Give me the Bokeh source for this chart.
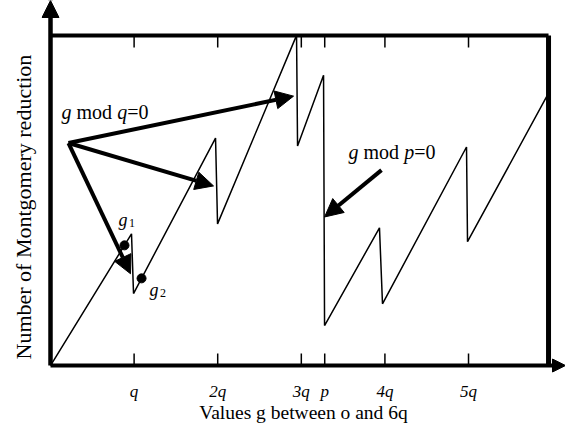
from bokeh.plotting import figure
from bokeh.models import Range1d, FixedTicker, Arrow, NormalHead, Title
from bokeh.core.properties import value
from bokeh.embed import file_html
from bokeh.resources import INLINE

# ---- data (x in units of q, y = relative number of Montgomery reductions, 100 = top of box)
g_vals = [0, 0.969, 0.993, 1.974, 1.998, 2.943, 2.955, 3.266, 3.278, 3.935, 3.971, 4.976, 4.988, 5.957]
reductions = [0, 39.9, 21.8, 68.9, 42.9, 100, 66.5, 87.9, 12.1, 41.7, 18.7, 66.2, 37.5, 82.5]

tick_values = [1, 2, 3, 3.28, 4, 5]
tick_labels = ["q", "2q", "3q", "p", "4q", "5q"]

marked_g = [0.885, 1.089]
marked_r = [36.4, 26.4]
marked_sub = ["1", "2"]
marked_label_g = [0.813, 1.184]
marked_label_r = [44.0, 22.8]

arrow_q_start = (0.215, 67.4)
arrow_q_ends_g = [2.907, 1.950, 0.957]
arrow_q_ends_r = [81.6, 54.4, 27.8]
arrow_p_start = (3.959, 59.2)
arrow_p_end = (3.278, 45.0)

label_q_pos = (0.132, 76.7)
label_p_pos = (3.565, 64.6)

box_right = 5.957
box_top = 100
x_min, x_max = -0.1077, 6.160
y_min, y_max = -3.02, 110.57
tick_len = 3.63  # inward tick length in y units

SERIF = "Liberation Serif"

p = figure(width=565, height=425, output_backend="svg", toolbar_location=None,
           x_range=Range1d(x_min, x_max), y_range=Range1d(y_min, y_max),
           min_border_left=41, min_border_bottom=49, min_border_top=0, min_border_right=0)
p.outline_line_color = None
p.grid.visible = False
p.yaxis.visible = False

# bottom axis: provides tick labels and axis label only
xa = p.xaxis[0]
xa.ticker = FixedTicker(ticks=tick_values)
xa.major_label_overrides = {v: t for v, t in zip(tick_values, tick_labels)}
xa.axis_line_color = None
xa.major_tick_line_color = None
xa.minor_tick_line_color = None
xa.major_label_text_font = SERIF
xa.major_label_text_font_style = "italic"
xa.major_label_text_font_size = "17px"
xa.major_label_text_color = "black"
xa.major_label_standoff = 0
xa.axis_label = "Values g between o and 6q"
xa.axis_label_text_font = SERIF
xa.axis_label_text_font_style = "normal"
xa.axis_label_text_font_size = "19.5px"
xa.axis_label_text_color = "black"
xa.axis_label_standoff = -2

p.add_layout(Title(text="Number of Montgomery reduction", align="left", offset=16,
                   text_font=SERIF, text_font_size="22px", text_font_style="normal",
                   text_color="black", standoff=12), "left")

# axes drawn as arrows
p.add_layout(Arrow(x_start=0, y_start=0, x_end=0, y_end=y_max, line_width=4.5, line_color="black",
                   end=NormalHead(size=17, fill_color="black", line_color="black")))
p.add_layout(Arrow(x_start=0, y_start=0, x_end=x_max, y_end=0, line_width=4, line_color="black",
                   end=NormalHead(size=13, fill_color="black", line_color="black")))

# box: top and right lines + ticks
p.segment(x0=[0], y0=[box_top], x1=[box_right], y1=[box_top], line_width=4, line_color="black")
p.segment(x0=[box_right], y0=[0], x1=[box_right], y1=[box_top], line_width=5, line_color="black")
p.segment(x0=tick_values, y0=[box_top] * len(tick_values), x1=tick_values,
          y1=[box_top - tick_len] * len(tick_values), line_width=1.5, line_color="black")
p.segment(x0=tick_values, y0=[0] * len(tick_values), x1=tick_values,
          y1=[tick_len] * len(tick_values), line_width=1.5, line_color="black")

# sawtooth curve
p.line(g_vals, reductions, line_width=1.5, line_color="black")

# marked points g1, g2
p.scatter(marked_g, marked_r, size=9, marker="circle", fill_color="black", line_color="black")
p.text(marked_label_g, marked_label_r, text=["g", "g"], text_font=value(SERIF), text_font_style="italic",
       text_font_size="18px", text_baseline="alphabetic", text_align="left", text_color="black")
p.text(marked_label_g, marked_label_r, text=marked_sub, text_font=value(SERIF),
       text_font_size="12px", text_baseline="alphabetic", text_align="left", text_color="black",
       x_offset=10.5, y_offset=3)

# annotation arrows
for ex, ey in zip(arrow_q_ends_g, arrow_q_ends_r):
    p.add_layout(Arrow(x_start=arrow_q_start[0], y_start=arrow_q_start[1], x_end=ex, y_end=ey,
                       line_width=4, line_color="black",
                       end=NormalHead(size=18, fill_color="black", line_color="black")))
p.add_layout(Arrow(x_start=arrow_p_start[0], y_start=arrow_p_start[1], x_end=arrow_p_end[0],
                   y_end=arrow_p_end[1], line_width=4, line_color="black",
                   end=NormalHead(size=18, fill_color="black", line_color="black")))

# "g mod q=0", "g mod p=0" labels (mixed italic / upright pieces)
def mixed_label(pos, var):
    pieces = [("g", "italic", 0), ("mod", "normal", 15), (var, "italic", 55.6), ("=0", "normal", 65.6)]
    for txt, style, off in pieces:
        p.text([pos[0]], [pos[1]], text=[txt], text_font=value(SERIF), text_font_style=style,
               text_font_size="20px", text_baseline="alphabetic", text_align="left",
               text_color="black", x_offset=off)

mixed_label(label_q_pos, "q")
mixed_label(label_p_pos, "p")

open("out.html", "w").write(file_html(p, INLINE))
